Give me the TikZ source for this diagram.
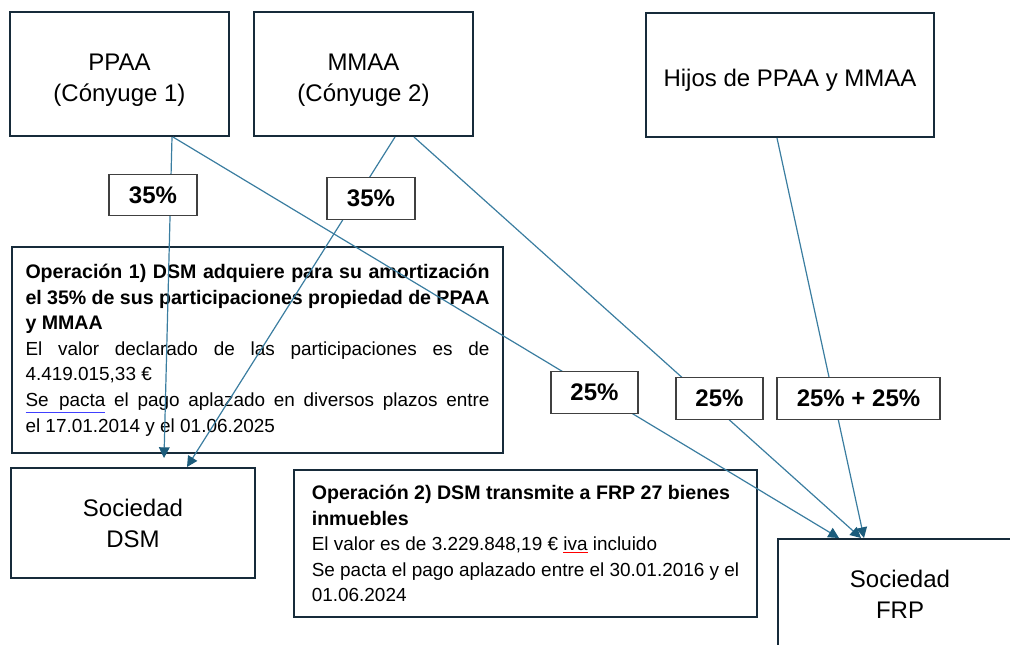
\documentclass[tikz,border=0pt]{standalone}
\usepackage{fontspec}
\setmainfont{Liberation Sans}
\usetikzlibrary{arrows.meta,calc}

\definecolor{boxnavy}{RGB}{23,43,58}
\definecolor{linkblue}{RGB}{58,125,160}
\definecolor{tipblue}{RGB}{28,92,124}
\definecolor{labelgray}{RGB}{64,64,64}

\newcommand{\markline}[2]{{\color{#1}\underline{\color{black}#2}}}
\newcommand{\opbold}{\bfseries\fontsize{14.7}{19.2}\selectfont}

\tikzset{
  entity/.style={draw=boxnavy,line width=1.5pt,align=center,font=\fontsize{18}{23.25}\selectfont},
  owner/.style={entity,minimum width=164.25pt,minimum height=93pt,text height=44.5pt,text depth=4pt},
  opbox/.style={draw=boxnavy,line width=1.5pt,font=\fontsize{14.2}{19.2}\selectfont},
  pct/.style={draw=labelgray,line width=0.9pt,fill=white,minimum height=31pt,font=\bfseries\fontsize{18}{22}\selectfont},
  link/.style={draw=linkblue,line width=0.9pt,-{Triangle[length=8pt,width=8pt,color=tipblue]}},
}

\begin{document}
\begin{tikzpicture}[x=0.75pt,y=0.75pt,yscale=-1,xscale=1]
\useasboundingbox (0,0) rectangle (1010,644);

% Owners
\node[owner] (ppaa) at (119.5,74) {PPAA\\(Cónyuge 1)};
\node[owner] (mmaa) at (363.5,74) {MMAA\\(Cónyuge 2)};
\node[entity,minimum width=216pt,minimum height=93pt,text height=21pt,text depth=3.8pt] (hijos) at (790,75) {Hijos de PPAA y MMAA};

% Companies
\node[entity,minimum width=183pt,minimum height=82.5pt] (dsm) at (133,523) {Sociedad\\DSM};
\node[entity,minimum width=183pt,minimum height=82.5pt] (frp) at (900,594) {Sociedad\\FRP};

% Operation 1
\node[opbox,text width=348pt,align=justify,inner xsep=10pt,minimum height=154.5pt] (opuno) at (257.5,350) {%
{\opbold Operación 1) DSM adquiere para su amortización\linebreak
el 35\% de sus participaciones propiedad de PPAA\linebreak
y MMAA}\\
El valor declarado de las participaciones es de\linebreak
4.419.015,33 €\\
\markline{blue!75}{Se\ \ pacta} el pago aplazado en diversos plazos entre\linebreak
el 17.01.2014 y el 01.06.2025};

% Operation 2
\node[opbox,align=left,minimum width=347.25pt,minimum height=110.25pt] (opdos) at (525.5,543.5) {%
{\opbold Operación 2) DSM transmite a FRP 27 bienes}\\
{\opbold inmuebles}\\
El valor es de 3.229.848,19 € \markline{red}{iva} incluido\\
Se pacta el pago aplazado entre el 30.01.2016 y el\\
01.06.2024};

%Straight Lines
\draw[link] ($(ppaa.south)+(52.5,0)$) -- ($(dsm.north)+(31,-9)$);
\draw[link] ($(ppaa.south)+(53.5,0)$) -- ($(frp.north west)+(62,0)$);
\draw[link] ($(mmaa.south)+(31.5,0)$) -- ($(dsm.north)+(54,0)$);
\draw[link] ($(mmaa.south)+(50.5,0)$) -- ($(frp.north west)+(84,0)$);
\draw[link] ($(hijos.south)+(-13,0)$) -- ($(frp.north west)+(87,0)$);

% Text Node
\node[pct,minimum width=66pt] (pctppaa) at (153,195) {35\%};
\node[pct,minimum width=66pt] (pctmmaa) at (371,198.5) {35\%};
\node[pct,minimum width=65.25pt] (pctpfrp) at (594.5,392.5) {25\%};
\node[pct,minimum width=65.25pt] (pctmfrp) at (719.5,398.5) {25\%};
\node[pct,minimum width=122.25pt] (pcthijos) at (858.5,398.5) {25\% + 25\%};

\end{tikzpicture}
\end{document}
